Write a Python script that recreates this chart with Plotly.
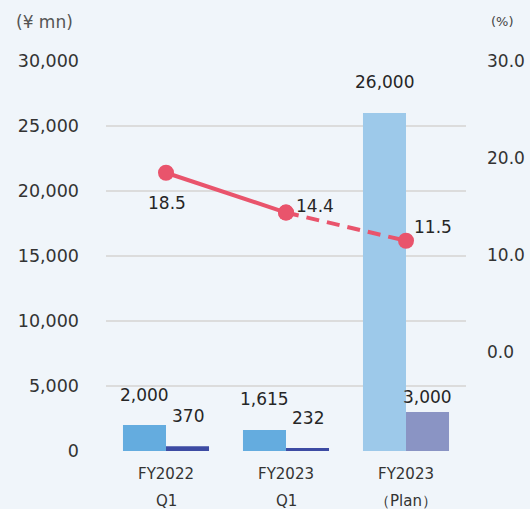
import plotly.graph_objects as go

# Data
categories = ["FY2022 Q1", "FY2023 Q1", "FY2023 Plan"]
tick_line1 = ["FY2022", "FY2023", "FY2023"]
tick_line2 = ["Q1", "Q1", "（Plan）"]
sales = [2000, 1615, 26000]          # ¥ mn
profit = [370, 232, 3000]            # ¥ mn
margin = [18.5, 14.4, 11.5]          # %

BG = "#F0F5FA"
FONT = "DejaVu Sans"
sales_colors = ["#64ACDF", "#64ACDF", "#9DC9EA"]
profit_colors = ["#3D4BA3", "#3D4BA3", "#8A94C4"]
LINE = "#E9546C"

fig = go.Figure()

fig.add_trace(go.Bar(x=categories, y=sales, marker=dict(color=sales_colors, line=dict(width=0)),
                     showlegend=False, hoverinfo="skip"))
fig.add_trace(go.Bar(x=categories, y=profit, marker=dict(color=profit_colors, line=dict(width=0)),
                     showlegend=False, hoverinfo="skip"))

# Margin line: actual (solid) then plan (dashed)
fig.add_trace(go.Scatter(x=categories[:2], y=margin[:2], yaxis="y2", mode="lines+markers",
                         line=dict(color=LINE, width=4),
                         marker=dict(color=LINE, size=16),
                         showlegend=False, hoverinfo="skip"))
fig.add_trace(go.Scatter(x=categories[1:], y=margin[1:], yaxis="y2", mode="lines+markers",
                         line=dict(color=LINE, width=4, dash="13px,8px"),
                         marker=dict(color=LINE, size=16),
                         showlegend=False, hoverinfo="skip"))

annotations = []
BAR_HALF = 21.5
sales_lift = [30, 31, 31]
profit_lift = [30, 30, 15]
for i, c in enumerate(categories):
    annotations.append(dict(x=c, y=sales[i], xref="x", yref="y", text=f"{sales[i]:,}",
                            showarrow=False, xshift=-BAR_HALF, yshift=sales_lift[i],
                            font=dict(family=FONT, size=17, color="#262626")))
    annotations.append(dict(x=c, y=profit[i], xref="x", yref="y", text=f"{profit[i]:,}",
                            showarrow=False, xshift=BAR_HALF, yshift=profit_lift[i],
                            font=dict(family=FONT, size=17, color="#262626")))
    annotations.append(dict(x=c, y=0, xref="x", yref="paper", text=tick_line2[i],
                            showarrow=False, yshift=-61,
                            font=dict(family=FONT, size=15, color="#333333")))

margin_shift = [(1, -30), (29, 7), (27, 14)]
for i, c in enumerate(categories):
    dx, dy = margin_shift[i]
    annotations.append(dict(x=c, y=margin[i], xref="x", yref="y2", text=f"{margin[i]:.1f}",
                            showarrow=False, xshift=dx, yshift=dy,
                            font=dict(family=FONT, size=17, color="#262626")))

annotations.append(dict(x=-0.255, y=1.1, xref="paper", yref="paper", text="(¥ mn)",
                        showarrow=False, xanchor="left", yanchor="middle",
                        font=dict(family=FONT, size=17, color="#555555")))
annotations.append(dict(x=1.065, y=1.1, xref="paper", yref="paper", text="(%)",
                        showarrow=False, xanchor="left", yanchor="middle",
                        font=dict(family=FONT, size=13, color="#444444")))

fig.update_layout(
    width=530, height=509,
    margin=dict(l=106, r=64, t=61, b=58),
    paper_bgcolor=BG, plot_bgcolor=BG,
    barmode="group", bargap=0.283, bargroupgap=0,
    font=dict(family=FONT, color="#333333"),
    xaxis=dict(type="category", tickvals=categories, ticktext=tick_line1,
               tickfont=dict(family=FONT, size=15, color="#333333"),
               showgrid=False, zeroline=False, showline=False, ticks="",
               ticklabelstandoff=12, automargin=False),
    yaxis=dict(range=[0, 30000], tickvals=[0, 5000, 10000, 15000, 20000, 25000, 30000],
               tickformat=",d", tickfont=dict(family=FONT, size=17.5, color="#333333"),
               showgrid=True, gridcolor="#DCDCDC", gridwidth=1.5, zeroline=False,
               ticklabelstandoff=26, automargin=False),
    yaxis2=dict(overlaying="y", side="right", range=[-10.14, 30],
                tickvals=[0, 10, 20, 30], tickformat=".1f",
                tickfont=dict(family=FONT, size=17, color="#333333"),
                showgrid=False, zeroline=False, ticklabelstandoff=20, automargin=False),
    annotations=annotations,
)

fig.write_html("out.html")
